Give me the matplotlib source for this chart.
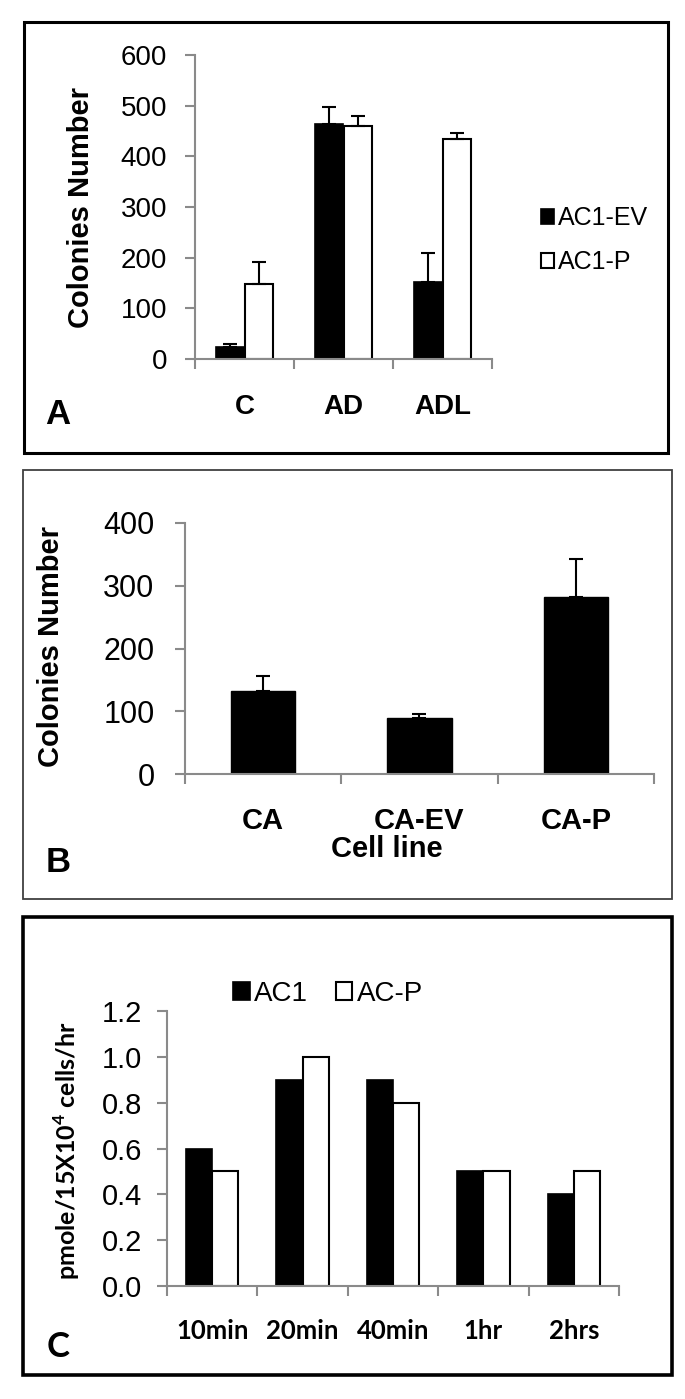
import numpy as np
import matplotlib
matplotlib.use('Agg')
from matplotlib import pyplot as plt
from matplotlib.patches import Rectangle

# panel A: colonies per treatment
a_groups = ['C', 'AD', 'ADL']
a_ev = [24, 464, 152]
a_ev_err = [6, 34, 57]
a_p = [148, 459, 435]
a_p_err = [43, 21, 11]

# panel B: colonies per cell line
b_lines = ['CA', 'CA-EV', 'CA-P']
b_vals = [132, 89, 282]
b_err = [24, 6, 61]

# panel C: rate over time
c_times = ['10min', '20min', '40min', '1hr', '2hrs']
c_ac1 = [0.6, 0.9, 0.9, 0.5, 0.4]
c_acp = [0.5, 1.0, 0.8, 0.5, 0.5]

W, H = 685, 1399
ARIAL = ['Liberation Sans', 'DejaVu Sans']
NARROW = ['Liberation Sans Narrow', 'Liberation Sans', 'DejaVu Sans']
CALB = ['Lato', 'DejaVu Sans']
GRAY = '#8a8a8a'

plt.rcParams['mathtext.fontset'] = 'custom'
plt.rcParams['mathtext.rm'] = 'Lato'
plt.rcParams['mathtext.bf'] = 'Lato:bold'

fig = plt.figure(figsize=(W / 100, H / 100), dpi=100)


def px(x, y):
    return x / W, 1 - y / H


def box(x0, y0, x1, y1, lw, color):
    fig.patches.append(Rectangle(px(x0, y1), (x1 - x0) / W, (y1 - y0) / H,
                                 transform=fig.transFigure, fill=False,
                                 lw=lw, ec=color))


def make_axes(x0, ytop, x1, y0):
    ax = fig.add_axes([x0 / W, 1 - y0 / H, (x1 - x0) / W, (y0 - ytop) / H])
    for s in ['top', 'right']:
        ax.spines[s].set_visible(False)
    for s in ['left', 'bottom']:
        ax.spines[s].set_color(GRAY)
        ax.spines[s].set_linewidth(1.5)
    return ax


def cat_axis(ax, labels, pad, size, family):
    n = len(labels)
    ax.set_xlim(-0.5, n - 0.5)
    ax.set_xticks(np.arange(n + 1) - 0.5)
    ax.set_xticklabels([])
    ax.tick_params(axis='x', which='major', length=7, width=1.5, color=GRAY, direction='out')
    ax.set_xticks(np.arange(n), minor=True)
    ax.set_xticklabels(labels, minor=True, fontsize=size, fontweight='bold', family=family)
    ax.tick_params(axis='x', which='minor', length=0, pad=pad)


# ---------- panel A ----------
box(24, 22, 668, 453, 2.2, 'black')
ax = make_axes(195, 55, 492, 359)
x = np.arange(len(a_groups))
bw = 0.29
ax.bar(x - bw / 2, a_ev, bw, color='black', edgecolor='black', lw=1.2, label='AC1-EV')
ax.bar(x + bw / 2, a_p, bw, color='white', edgecolor='black', lw=1.5, label='AC1-P')
ax.errorbar(x - bw / 2, a_ev, yerr=[np.zeros(3), a_ev_err], fmt='none', ecolor='black', elinewidth=1.5, capsize=5, capthick=1.5)
ax.errorbar(x + bw / 2, a_p, yerr=[np.zeros(3), a_p_err], fmt='none', ecolor='black', elinewidth=1.5, capsize=5, capthick=1.5)
ax.set_ylim(0, 600)
ax.set_yticks(np.arange(0, 601, 100))
ax.tick_params(axis='y', length=7, width=1.5, color=GRAY, pad=13, labelsize=20)
for t in ax.get_yticklabels():
    t.set_family(ARIAL)
cat_axis(ax, a_groups, 25, 20, ARIAL)
ax.set_ylabel('Colonies Number', fontsize=21, fontweight='bold', family=ARIAL)
ax.yaxis.set_label_coords(-0.384, 0.5)
ax.yaxis.label.set_va('center')
leg = ax.legend(loc='center left', bbox_to_anchor=px(518, 240), bbox_transform=fig.transFigure,
                frameon=False, prop={'family': ARIAL, 'size': 18},
                handlelength=0.55, handleheight=0.55, handletextpad=0.15, labelspacing=0.8)
fig.text(*px(58, 414), 'A', fontsize=25, fontweight='bold', family=ARIAL, ha='center', va='center')

# ---------- panel B ----------
box(23, 470, 672, 899, 1.3, '#404040')
ax = make_axes(185, 523, 654, 774)
x = np.arange(len(b_lines))
ax.bar(x, b_vals, 0.41, color='black', edgecolor='black')
ax.errorbar(x, b_vals, yerr=[np.zeros(3), b_err], fmt='none', ecolor='black', elinewidth=1.5, capsize=5, capthick=1.5)
ax.set_ylim(0, 400)
ax.set_yticks(np.arange(0, 401, 100))
ax.tick_params(axis='y', length=7, width=1.5, color=GRAY, pad=15, labelsize=22)
for t in ax.get_yticklabels():
    t.set_family(ARIAL)
cat_axis(ax, b_lines, 24, 21, ARIAL)
ax.set_ylabel('Colonies Number', fontsize=21, fontweight='bold', family=ARIAL)
ax.yaxis.set_label_coords(-0.286, 0.506)
ax.yaxis.label.set_va('center')
ax.set_xlabel('Cell line', fontsize=21, fontweight='bold', family=ARIAL)
ax.xaxis.set_label_coords((387 - 185) / 469, (774 - 849) / 251)
ax.xaxis.label.set_va('center')
fig.text(*px(58, 862), 'B', fontsize=25, fontweight='bold', family=ARIAL, ha='center', va='center')

# ---------- panel C ----------
box(23, 917, 672, 1375, 2.6, 'black')
ax = make_axes(167, 1011, 619, 1286)
x = np.arange(len(c_times))
bw = 0.29
ax.bar(x - bw / 2, c_ac1, bw, color='black', edgecolor='black', lw=1.2, label='AC1')
ax.bar(x + bw / 2, c_acp, bw, color='white', edgecolor='black', lw=1.5, label='AC-P')
ax.set_ylim(0, 1.2)
ax.set_yticks(np.arange(0, 1.21, 0.2))
ax.set_yticklabels(['%.1f' % v for v in np.arange(0, 1.21, 0.2)])
ax.tick_params(axis='y', length=7, width=1.5, color=GRAY, pad=11, labelsize=21)
for t in ax.get_yticklabels():
    t.set_family(NARROW)
cat_axis(ax, c_times, 24, 18.5, CALB)
ax.set_ylabel(r'pmole/15X10$^{\mathbf{4}}$ cells/hr', fontsize=18, fontweight='bold', family=CALB)
ax.yaxis.set_label_coords(-0.222, 0.49)
ax.yaxis.label.set_va('center')
ax.legend(loc='center left', bbox_to_anchor=px(208, 994), bbox_transform=fig.transFigure,
          ncol=2, frameon=False, prop={'family': NARROW, 'size': 20},
          handlelength=0.6, handleheight=0.6, handletextpad=0.15, columnspacing=1.0)
fig.text(*px(58, 1347), 'C', fontsize=25, fontweight='bold', family=CALB, ha='center', va='center')

fig.savefig('out.png', dpi=100)
